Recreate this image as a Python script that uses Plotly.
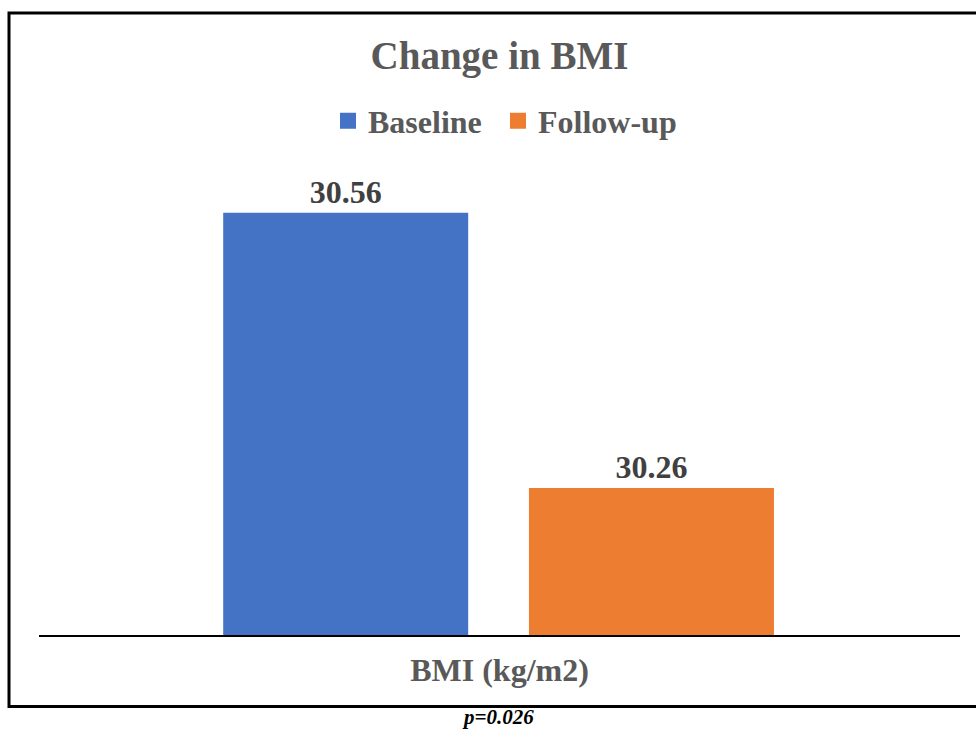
import plotly.graph_objects as go

# Chart data
category = ["BMI (kg/m2)"]
series_names = ["Baseline", "Follow-up"]
series_values = [[30.56], [30.26]]
series_colors = ["#4472C4", "#ED7D31"]
p_value_text = "p=0.026"

W, H = 976, 729
L, R, T, B = 39, 16, 176, 94
plot_w = W - L - R
plot_h = H - T - B

SERIF = "Liberation Serif, Times New Roman, serif"
GREY = "#595959"
LABEL = "#404040"

bar_width = 0.266
bar_offsets = [-0.300, 0.032]
legend_ids = ["legend", "legend2"]
legend_left_px = [328, 498]


def px_x(X):
    return (X - L) / plot_w


def px_y(Y):
    return (H - B - Y) / plot_h


fig = go.Figure()
for name, vals, color, off, lg in zip(series_names, series_values, series_colors,
                                      bar_offsets, legend_ids):
    fig.add_trace(go.Bar(
        x=category, y=vals, name=name,
        marker=dict(color=color, line=dict(width=0)),
        width=bar_width, offset=off,
        texttemplate="%{y:.2f}", textposition="outside",
        textfont=dict(family=SERIF, size=32, color=LABEL, weight=700),
        cliponaxis=False, showlegend=False,
    ))
    # legend entry with a larger square swatch
    fig.add_trace(go.Scatter(
        x=[None], y=[None], mode="markers", name=name,
        marker=dict(symbol="square", size=16, color=color),
        showlegend=True, legend=lg,
    ))

fig.add_shape(type="rect", xref="paper", yref="paper",
              x0=px_x(9), x1=px_x(990), y0=px_y(706.5), y1=px_y(13),
              line=dict(color="black", width=3), fillcolor="rgba(0,0,0,0)",
              layer="above")

fig.add_annotation(text=p_value_text, xref="paper", yref="paper",
                   x=px_x(498), y=px_y(717), xanchor="center", yanchor="middle",
                   showarrow=False,
                   font=dict(family=SERIF, size=21, color="black", weight=700, style="italic"))

legend_style = dict(orientation="h", xanchor="left", y=px_y(121), yanchor="middle",
                    font=dict(family=SERIF, size=32, color=GREY, weight=700),
                    itemsizing="trace", bgcolor="rgba(0,0,0,0)")

fig.update_layout(
    width=W, height=H, autosize=False,
    margin=dict(l=L, r=R, t=T, b=B, pad=0),
    paper_bgcolor="white", plot_bgcolor="white",
    barmode="overlay",
    title=dict(text="Change in BMI", x=0.5, xref="paper", xanchor="center",
               y=1 - 55 / H, yref="container", yanchor="middle",
               font=dict(family=SERIF, size=39, color=GREY, weight=700)),
    legend=dict(x=px_x(legend_left_px[0]), **legend_style),
    legend2=dict(x=px_x(legend_left_px[1]), **legend_style),
    xaxis=dict(type="category", range=[-0.5, 0.5],
               showline=True, linecolor="black", linewidth=2,
               ticks="", showgrid=False, zeroline=False,
               tickfont=dict(family=SERIF, size=32, color=GREY, weight=700),
               ticklabelstandoff=6),
    yaxis=dict(range=[30.1, 30.6], visible=False, showgrid=False, zeroline=False),
    font=dict(family=SERIF),
)

fig.write_html("out.html")
